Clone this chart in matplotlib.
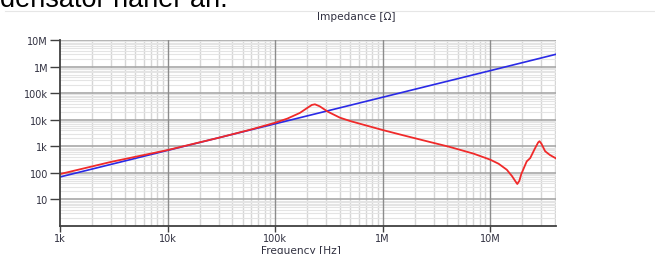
import numpy as np
import matplotlib.pyplot as plt
from matplotlib.ticker import LogLocator, FixedLocator

# impedance curves (frequency in Hz, impedance in Ohm)
freq_blue = [1e3, 1e4, 1e5, 1e6, 1e7, 4.1e7]
z_blue = [70, 700, 7.0e3, 7.0e4, 7.0e5, 2.9e6]

freq_red = [1e3, 3e3, 1e4, 3e4, 6e4, 1e5, 1.3e5, 1.7e5, 2.0e5, 2.2e5, 2.35e5,
            2.6e5, 3.1e5, 4e5, 5e5, 1e6, 1.55e6, 2.7e6, 4.2e6, 7e6, 1e7,
            1.2e7, 1.43e7, 1.6e7, 1.72e7, 1.79e7, 1.87e7, 1.95e7, 2.19e7,
            2.36e7, 2.6e7, 2.8e7, 2.88e7, 3.0e7, 3.25e7, 3.6e7, 4.1e7]
z_red = [90, 260, 720, 2.1e3, 4.3e3, 7.7e3, 11e3, 18e3, 28e3, 36e3, 38e3,
         32e3, 20e3, 12e3, 8.9e3, 4.1e3, 2.6e3, 1.48e3, 950, 530, 315,
         220, 131, 75, 48, 38, 50, 90, 270,
         360, 800, 1400, 1550, 1250, 650, 470, 350]

x_ticks = [1e3, 1e4, 1e5, 1e6, 1e7]
x_labels = ['1k', '10k', '100k', '1M', '10M']
y_ticks = [10, 100, 1e3, 1e4, 1e5, 1e6, 1e7]
y_labels = ['10', '100', '1k', '10k', '100k', '1M', '10M']

plt.rcParams['font.family'] = ['DejaVu Sans']

fig = plt.figure(figsize=(6.55, 2.55), dpi=100)
ax = fig.add_axes([60 / 655, 1 - 227 / 255, 496 / 655, 186 / 255])

ax.set_xscale('log')
ax.set_yscale('log')
ax.set_xlim(1e3, 4.1e7)
ax.set_ylim(1, 1e7)

# grid: minor first, then the decade lines on top of them
ax.xaxis.set_minor_locator(LogLocator(base=10, subs=np.arange(2, 10)))
ax.yaxis.set_minor_locator(LogLocator(base=10, subs=np.arange(2, 10), numticks=20))
ax.grid(which='minor', axis='x', color='#d6d6d6', lw=1.0)
ax.grid(which='minor', axis='y', color='#e4e4e4', lw=0.8)
ax.set_axisbelow(True)
for yv in y_ticks:
    ax.axhline(yv, color='#a8a8a8', lw=1.2, zorder=1)
for xv in x_ticks[1:]:
    ax.axvline(xv, color='#8c8c8c', lw=1.0, zorder=1.5)
ax.tick_params(which='minor', length=0)

ax.plot(freq_blue, z_blue, color='#2a2ae6', lw=1.2, zorder=3)
ax.plot(freq_red, z_red, color='#f02a2a', lw=1.3, zorder=4)

ax.xaxis.set_major_locator(FixedLocator(x_ticks))
ax.set_xticklabels(x_labels)
ax.yaxis.set_major_locator(FixedLocator(y_ticks))
ax.set_yticklabels(y_labels)
ax.tick_params(which='major', axis='y', length=7, width=1, color='#404040',
               labelsize=7, labelcolor='#303040', pad=1.5)
ax.tick_params(which='major', axis='x', length=4, width=1, color='#404040',
               labelsize=7, labelcolor='#303040', pad=1)

for side in ['top', 'right']:
    ax.spines[side].set_visible(False)
for side in ['left', 'bottom']:
    ax.spines[side].set_color('#404040')
    ax.spines[side].set_linewidth(1.3)
    ax.spines[side].set_zorder(5)

fig.text(356 / 655, 1 - 17 / 255, 'Impedance [\u03a9]', ha='center', va='center',
         fontsize=7.6, color='#303040')
fig.text(301 / 655, 1 - 251 / 255, 'Frequency [Hz]', ha='center', va='center',
         fontsize=7.6, color='#303040')

# page text cut off at the top of the screenshot
fig.text(0, 1 - 7 / 255, 'densator n\u00e4her an.', ha='left', va='baseline',
         fontsize=19.5, family='Liberation Sans', color='black')
fig.add_artist(plt.Line2D([5 / 655, 1], [1 - 12 / 255, 1 - 12 / 255],
                          color='#e6e6e6', lw=0.8, transform=fig.transFigure))

fig.savefig('out.png', dpi=100)
